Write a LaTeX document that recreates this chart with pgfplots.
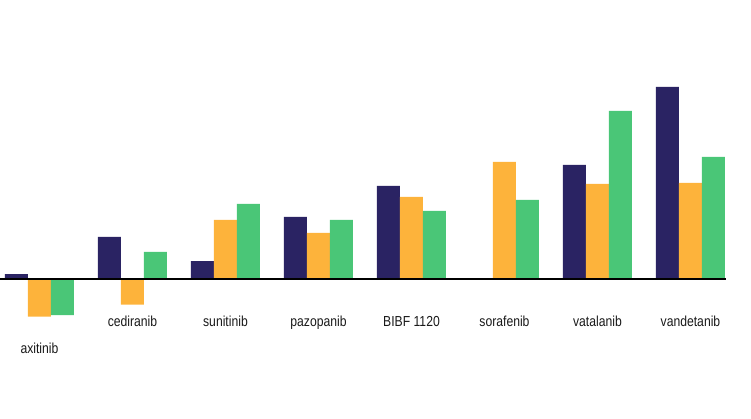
\documentclass[border=0pt]{standalone}
\usepackage{fontspec}
\setmainfont{Liberation Sans}[FakeStretch=0.84]
\usepackage{pgfplots}
\pgfplotsset{compat=1.18}

\definecolor{navy}{HTML}{2A2363}
\definecolor{amber}{HTML}{FDB33B}
\definecolor{mint}{HTML}{4AC677}

% values are in pixels above the baseline
\begin{document}
\begin{tikzpicture}
\begin{axis}[
    scale only axis, width=751pt, height=418pt,
    xmin=-0.4247, xmax=7.651, ymin=-139, ymax=279,
    hide axis, clip=false,
    ybar, bar width=23pt,
    every axis plot/.append style={draw=none},
]
\addplot[fill=navy, bar shift=-23pt] coordinates {
    (0,5) (1,42) (2,18) (3,62) (4,93) (5,0) (6,114) (7,192)};
\addplot[fill=amber, bar shift=0pt] coordinates {
    (0,-37.5) (1,-25.7) (2,59) (3,46) (4,82) (5,117) (6,95) (7,96)};
\addplot[fill=mint, bar shift=23pt] coordinates {
    (0,-36) (1,27) (2,75) (3,59) (4,68) (5,79) (6,168) (7,122)};
\draw[black, line width=1.2pt] (axis cs:-0.4247,0) -- (axis cs:7.382,0);
\begin{scope}[every node/.style={text=black!90, font=\fontsize{14.5}{17}\selectfont, anchor=base, inner sep=0pt}]
\node at (axis cs:0,-74) {axitinib};
\node at (axis cs:1,-47) {cediranib};
\node at (axis cs:2,-47) {sunitinib};
\node at (axis cs:3,-47) {pazopanib};
\node at (axis cs:4,-47) {BIBF 1120};
\node at (axis cs:5,-47) {sorafenib};
\node at (axis cs:6,-47) {vatalanib};
\node at (axis cs:7,-47) {vandetanib};
\end{scope}
\end{axis}
\pgfresetboundingbox
\path[use as bounding box] (current axis.south west) rectangle (current axis.north east);
\end{tikzpicture}
\end{document}
